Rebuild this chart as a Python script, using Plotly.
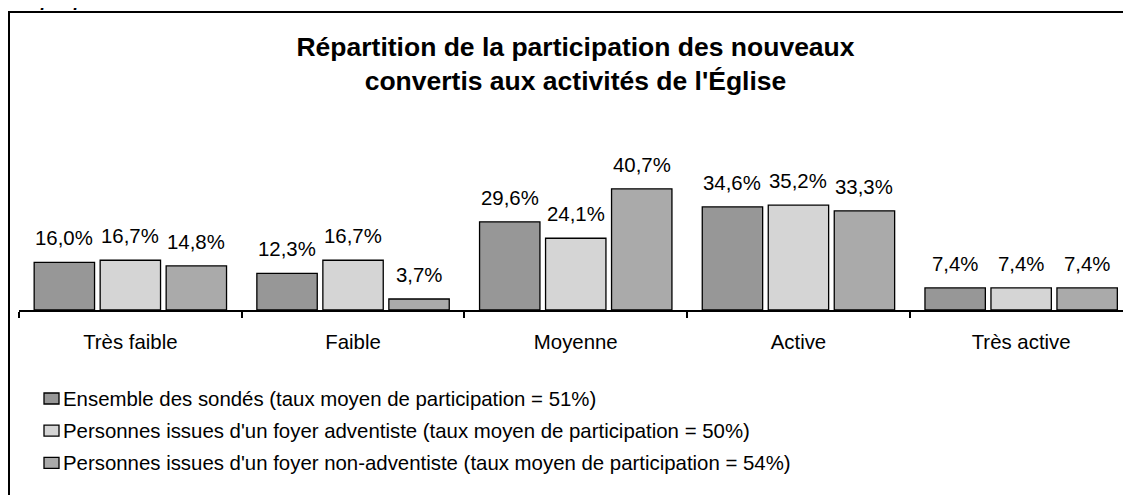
import plotly.graph_objects as go

categories = ["Très faible", "Faible", "Moyenne", "Active", "Très active"]
series_names = [
    "Ensemble des sondés (taux moyen de participation = 51%)",
    "Personnes issues d'un foyer adventiste (taux moyen de participation = 50%)",
    "Personnes issues d'un foyer non-adventiste (taux moyen de participation = 54%)",
]
ensemble = [16.0, 12.3, 29.6, 34.6, 7.4]
adventiste = [16.7, 16.7, 24.1, 35.2, 7.4]
non_adventiste = [14.8, 3.7, 40.7, 33.3, 7.4]
series_values = [ensemble, adventiste, non_adventiste]
colors = ["#979797", "#d5d5d5", "#aaaaaa"]

W, H = 1131, 495
ML, MR, MT, MB = 11, 0, 168, 193
PW, PH = W - ML - MR, H - MT - MB
FONT = "Liberation Sans, Arial, sans-serif"
FS = 20.4
BARGAP, BARGROUPGAP = 0.111, 0.085
YMAX = 45
GROUP_PX = 222.7


def px_x(x):
    return (x - ML) / PW


def px_y(y):
    return (H - MB - y) / PH


fig = go.Figure()
for name, vals, col in zip(series_names, series_values, colors):
    fig.add_trace(go.Bar(
        x=categories, y=vals, name=name,
        marker=dict(color=col, line=dict(color="black", width=1.3)),
        showlegend=False,
    ))

annotations = []
slot = (1 - BARGAP) / len(series_values)
for k, vals in enumerate(series_values):
    off = (k - (len(series_values) - 1) / 2) * slot
    for i, v in enumerate(vals):
        annotations.append(dict(
            x=i + off, y=v, xref="x", yref="y",
            text=f"{v:.1f}".replace(".", ",") + "%",
            showarrow=False, yanchor="middle", yshift=24,
            font=dict(family=FONT, size=FS, color="black"),
        ))

# legend (manual, Excel style)
shapes = []
for k, (name, col) in enumerate(zip(series_names, colors)):
    yc = 390.5 + k * 32.2
    shapes.append(dict(
        type="rect", xref="paper", yref="paper",
        x0=px_x(36), x1=px_x(51), y0=px_y(yc - 5.5), y1=px_y(yc + 5.5),
        fillcolor=col, line=dict(color="black", width=1.3),
    ))
    annotations.append(dict(
        x=px_x(53), y=px_y(yc), xref="paper", yref="paper",
        text=name, showarrow=False, xanchor="left", yanchor="middle",
        font=dict(family=FONT, size=FS, color="black"),
    ))

# frame
shapes.append(dict(
    type="rect", xref="paper", yref="paper",
    x0=px_x(1), x1=px_x(1145), y0=px_y(4), y1=px_y(510),
    line=dict(color="black", width=2), fillcolor="rgba(0,0,0,0)", layer="below",
))

annotations.append(dict(
    x=px_x(0), y=px_y(4), xref="paper", yref="paper",
    text="<b><i>Graphique 62</i></b>", showarrow=False,
    xanchor="left", yanchor="bottom",
    font=dict(family=FONT, size=18, color="black"),
))

fig.update_layout(
    width=W, height=H,
    margin=dict(l=ML, r=MR, t=MT, b=MB),
    paper_bgcolor="white", plot_bgcolor="white",
    barmode="group", bargap=BARGAP, bargroupgap=BARGROUPGAP,
    title=dict(
        text="<b>Répartition de la participation des nouveaux<br>convertis aux activités de l'Église</b>",
        x=567.5 / W, xref="container", xanchor="center",
        y=1 - 48 / H, yref="container", yanchor="middle",
        font=dict(family=FONT, size=26.5, color="black"),
    ),
    xaxis=dict(
        type="category", range=[-0.5, -0.5 + PW / GROUP_PX],
        showline=True, linecolor="black", linewidth=2,
        ticks="outside", tickson="boundaries", ticklen=6, tickwidth=1.5, tickcolor="black",
        tickfont=dict(family=FONT, size=FS, color="black"),
        showgrid=False, zeroline=False, ticklabelstandoff=13,
    ),
    yaxis=dict(visible=False, range=[0, YMAX], showgrid=False, zeroline=False),
    annotations=annotations, shapes=shapes,
    showlegend=False,
)

fig.write_html("out.html")
